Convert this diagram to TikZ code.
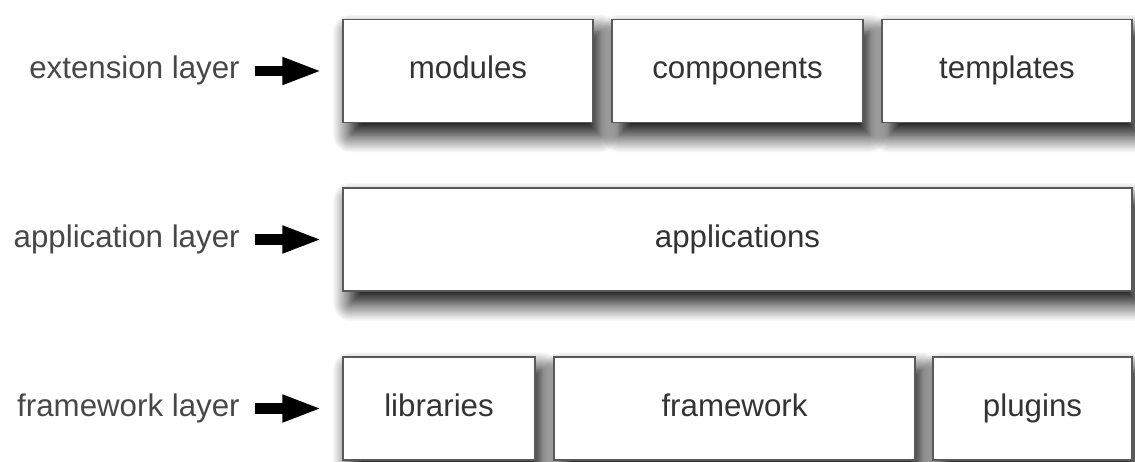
\documentclass[tikz,border=0pt]{standalone}
\usepackage{fontspec}
\setmainfont{Liberation Sans}
\usetikzlibrary{arrows.meta,shadows.blur}

\begin{document}
\begin{tikzpicture}[x=0.02cm,y=0.02cm,
    every node/.style={font=\fontsize{17.8}{20}\selectfont},
    layerbox/.style={draw=black!65, line width=0.03cm, fill=white, text=black!80,
      minimum height=2.07cm, inner sep=0pt, text height=1.9ex, text depth=0.2ex,
      blur shadow={shadow xshift=0.14cm, shadow yshift=-0.25cm,
        shadow blur radius=0.35cm, shadow blur steps=25, shadow opacity=100}},
    layerlabel/.style={anchor=east, inner sep=0pt, text=black!72,
      text height=1.9ex, text depth=0.2ex},
    fatarrow/.style={line width=0.21cm, -{Triangle[length=0.8cm,width=0.5cm]}}]
  \useasboundingbox (0,0) rectangle (1135,461);

  % top row
  \node[layerbox, minimum width=5cm]    (modules)    at (468,390)   {modules};
  \node[layerbox, minimum width=5.02cm] (components) at (737.5,390) {components};
  \node[layerbox, minimum width=5cm]    (templates)  at (1007,390)  {templates};

  % middle row
  \node[layerbox, minimum width=15.78cm] (applications) at (737.5,221.5) {applications};

  % bottom row
  \node[layerbox, minimum width=3.84cm] (libraries) at (439,52.5)    {libraries};
  \node[layerbox, minimum width=7.22cm] (framework) at (734.5,52.5)  {framework};
  \node[layerbox, minimum width=3.98cm] (plugins)   at (1032.5,52.5) {plugins};

  % layer names
  \node[layerlabel] (extlayer) at (240,390)   {extension layer};
  \node[layerlabel] (applayer) at (240,221.5) {application layer};
  \node[layerlabel] (fwlayer)  at (240,52.5)  {framework layer};

  \draw[fatarrow] ([xshift=0.3cm]extlayer.east) -- ([xshift=-0.4cm]modules.west);
  \draw[fatarrow] ([xshift=0.3cm]applayer.east) -- ([xshift=-0.4cm]applications.west);
  \draw[fatarrow] ([xshift=0.3cm]fwlayer.east) -- ([xshift=-0.4cm]libraries.west);
\end{tikzpicture}
\end{document}
